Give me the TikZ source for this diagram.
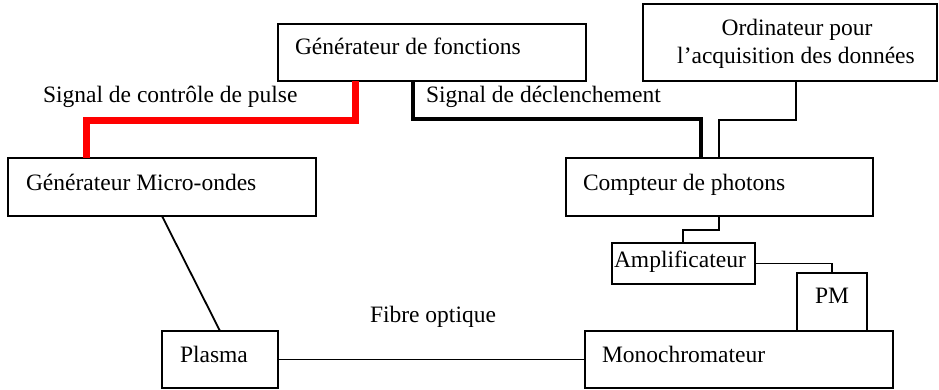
\documentclass[tikz,border=0pt]{standalone}
\usepackage{fontspec}
\setmainfont{Liberation Serif}
\begin{document}
\begin{tikzpicture}[x=1pt,y=-1pt,
  box/.style={draw=black,line width=1.8pt,rectangle,inner sep=0pt,outer sep=0pt},
  txt/.style={inner sep=0pt,outer sep=0pt,font=\fontsize{23.5}{28}\selectfont},
  wire/.style={draw=black,line width=1.8pt},
  trig/.style={draw=black,line width=3.5pt},
  pulse/.style={draw=red,line width=7pt}]
\useasboundingbox (0,0) rectangle (939,389);
% boxes
\node[box,minimum width=308pt,minimum height=57pt] (gf) at (432,52.5) {};
\node[box,minimum width=308pt,minimum height=58pt] (mw) at (162,187) {};
\node[box,minimum width=294pt,minimum height=77pt] (ord) at (790,42.5) {};
\node[box,minimum width=307pt,minimum height=58pt] (cp) at (719.5,187) {};
\node[box,minimum width=143pt,minimum height=41pt] (amp) at (683.5,263.5) {};
\node[box,minimum width=70pt,minimum height=58pt] (pm) at (832,302) {};
\node[box,minimum width=308pt,minimum height=57pt] (mono) at (739,359.5) {};
\node[box,minimum width=116pt,minimum height=57pt] (plasma) at (220,359.5) {};
% texts
\node[txt,anchor=base west] (tgf) at (295,54) {Générateur de fonctions};
\node[txt,anchor=base west] (tpulse) at (43,102) {Signal de contrôle de pulse};
\node[txt,anchor=base west] (ttrig) at (426,102) {Signal de déclenchement};
\node[txt,anchor=base west] (tmw) at (26,190) {Générateur Micro-ondes};
\node[txt,anchor=base] (tord1) at (797,35) {Ordinateur pour};
\node[txt,anchor=base] (tord2) at (796,63) {l’acquisition des données};
\node[txt,anchor=base west] (tcp) at (583,190) {Compteur de photons};
\node[txt,anchor=base west] (tamp) at (614,267) {Amplificateur};
\node[txt,anchor=base] (tpm) at (832,303) {PM};
\node[txt,anchor=base west] (tmono) at (602,362) {Monochromateur};
\node[txt,anchor=base west] (tplasma) at (180,362) {Plasma};
\node[txt,anchor=base west] (tfibre) at (370,322) {Fibre optique};
% bend coordinates
\coordinate (r1) at (355,120);
\coordinate (r2) at (86,120);
\coordinate (k1) at (413,119);
\coordinate (k2) at (701,119);
\coordinate (o1) at (796,120);
\coordinate (o2) at (719,120);
\coordinate (a1) at (719,230);
\coordinate (a2) at (683,230);
\coordinate (p1) at (832,263.5);
% connectors
\draw[pulse] (gf.south -| r1) -- (r1) -- (r2) -- (mw.north -| r2);
\draw[trig] (gf.south -| k1) -- (k1) -- (k2) -- (cp.north -| k2);
\draw[wire] (ord.south -| o1) -- (o1) -- (o2) -- (cp.north -| o2);
\draw[wire] (cp.south -| a1) -- (a1) -- (a2) -- (amp.north -| a2);
\draw[wire] (amp.east) -- (p1) -- (pm.north);
\draw[wire] (mw.south) -- (plasma.north);
\draw[wire] (plasma.east) -- (mono.west);
\end{tikzpicture}
\end{document}
